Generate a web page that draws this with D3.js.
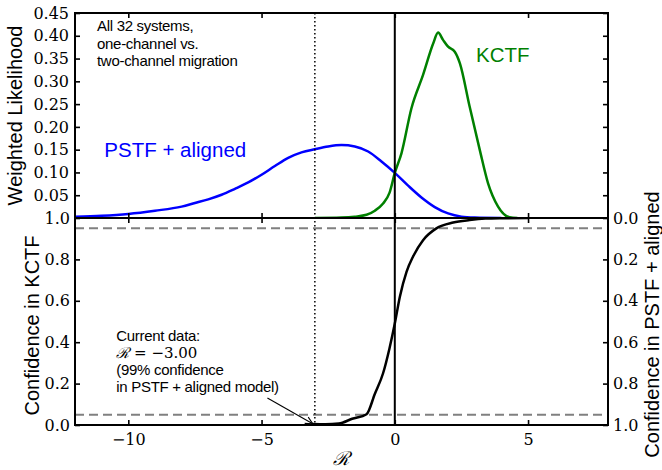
<!DOCTYPE html>
<html>
<head>
<meta charset="utf-8">
<script src="https://cdn.jsdelivr.net/npm/d3@7"></script>
<style>
  html, body { margin: 0; padding: 0; background: #fff; }
  svg { display: block; }
  .tick text { font-family: "DejaVu Serif", serif; font-size: 16px; fill: #000; }
  .tick line { stroke: #000; stroke-width: 1.6px; }
  .sans { font-family: "Liberation Sans", Arial, sans-serif; }
</style>
</head>
<body>
<svg id="chart" width="662" height="470"></svg>
<script>
// PSTF + aligned: weighted likelihood versus R
const pstfR    = [-12, -11, -10, -9, -8, -7.5, -7, -6.5, -6, -5.5, -5, -4.5, -4, -3.5, -3, -2.5, -2, -1.5, -1, -0.5, 0, 0.5, 1, 1.5, 2, 2.5, 3, 4];
const pstfLike = [0.003, 0.005, 0.009, 0.016, 0.025, 0.033, 0.041, 0.051, 0.064, 0.078, 0.095, 0.114, 0.132, 0.144, 0.151, 0.157, 0.160, 0.157, 0.146, 0.124, 0.099, 0.071, 0.045, 0.024, 0.010, 0.003, 0.001, 0];

// KCTF: weighted likelihood versus R
const kctfR    = [-3, -2, -1.5, -1.06, -0.75, -0.44, -0.2, 0, 0.25, 0.625, 1.06, 1.44, 1.625, 1.81, 2.0, 2.25, 2.44, 2.81, 3.19, 3.5, 3.875, 4.31, 4.6];
const kctfLike = [0, 0.001, 0.003, 0.007, 0.016, 0.032, 0.055, 0.099, 0.142, 0.241, 0.314, 0.383, 0.407, 0.391, 0.376, 0.365, 0.340, 0.244, 0.149, 0.076, 0.025, 0.0015, 0];

// Confidence in KCTF versus R
const confR    = [-3.1, -2.6, -2.1, -1.6, -1.06, -0.75, -0.44, -0.2, 0, 0.19, 0.44, 0.69, 1.06, 1.56, 2.19, 2.81, 3.4, 4.0, 5.0];
const confKCTF = [0.005, 0.004, 0.007, 0.03, 0.052, 0.15, 0.25, 0.37, 0.49, 0.62, 0.74, 0.815, 0.893, 0.95, 0.978, 0.99, 0.997, 0.999, 1.0];

// Tick values
const xTicks    = [-10, -5, 0, 5];
const likeTicks = [0.05, 0.10, 0.15, 0.20, 0.25, 0.30, 0.35, 0.40, 0.45];
const confTicks = [0.0, 0.2, 0.4, 0.6, 0.8, 1.0];

// Reference lines
const currentR  = -3.0;
const bandLines = [0.95, 0.05];

const svg = d3.select("#chart");
const L = 75, R = 608, T = 13, M = 218, B = 425;

const x  = d3.scaleLinear().domain([-12, 8]).range([L, R]);
const yL = d3.scaleLinear().domain([0, 0.45]).range([M, T]);
const yC = d3.scaleLinear().domain([0, 1]).range([B, M]);
const yP = d3.scaleLinear().domain([0, 1]).range([M, B]);

// clip paths for each panel
const defs = svg.append("defs");
defs.append("clipPath").attr("id", "clipTop")
  .append("rect").attr("x", L).attr("y", T).attr("width", R - L).attr("height", M - T);
defs.append("clipPath").attr("id", "clipBot")
  .append("rect").attr("x", L).attr("y", M).attr("width", R - L).attr("height", B - M);
defs.append("marker").attr("id", "arrowHead")
  .attr("viewBox", "0 0 10 10").attr("refX", 9).attr("refY", 5)
  .attr("markerWidth", 9).attr("markerHeight", 9).attr("markerUnits", "userSpaceOnUse")
  .attr("orient", "auto")
  .append("path").attr("d", "M1,1 L9,5 L1,9").attr("fill", "none")
  .attr("stroke", "#000").attr("stroke-width", 1.2);

// ---------- upper panel ----------
const upperPlot = svg.append("g").attr("clip-path", "url(#clipTop)");

const lineL = d3.line().x(d => x(d[0])).y(d => yL(d[1])).curve(d3.curveMonotoneX);

upperPlot.append("path").datum(d3.zip(pstfR, pstfLike))
  .attr("d", lineL).attr("fill", "none").attr("stroke", "#0000ff").attr("stroke-width", 2.5);
upperPlot.append("path").datum(d3.zip(kctfR, kctfLike))
  .attr("d", lineL).attr("fill", "none").attr("stroke", "#008000").attr("stroke-width", 2.5);

// ---------- lower panel ----------
const lowerPlot = svg.append("g").attr("clip-path", "url(#clipBot)");

lowerPlot.selectAll("line.band").data(bandLines).join("line")
  .attr("class", "band")
  .attr("x1", L).attr("x2", R)
  .attr("y1", d => yC(d)).attr("y2", d => yC(d))
  .attr("stroke", "#808080").attr("stroke-width", 2).attr("stroke-dasharray", "9,5");

const lineC = d3.line().x(d => x(d[0])).y(d => yC(d[1])).curve(d3.curveMonotoneX);
lowerPlot.append("path").datum(d3.zip(confR, confKCTF))
  .attr("d", lineC).attr("fill", "none").attr("stroke", "#000").attr("stroke-width", 2.5);

// vertical markers spanning both panels
svg.append("line")
  .attr("x1", x(0)).attr("x2", x(0)).attr("y1", T).attr("y2", B)
  .attr("stroke", "#000").attr("stroke-width", 2);
svg.append("line")
  .attr("x1", x(currentR)).attr("x2", x(currentR)).attr("y1", T).attr("y2", B)
  .attr("stroke", "#000").attr("stroke-width", 1.5).attr("stroke-dasharray", "1.5,2.5");

// ---------- axes ----------
function cleanAxis(g) {
  g.select(".domain").remove();
}
const fmt2 = d3.format(".2f"), fmt1 = d3.format(".1f");

svg.append("g").attr("transform", `translate(${L},0)`)
  .call(d3.axisLeft(yL).tickValues(likeTicks).tickSizeInner(-5).tickSizeOuter(0).tickPadding(6).tickFormat(fmt2))
  .call(cleanAxis);
svg.append("g").attr("transform", `translate(${R},0)`)
  .call(d3.axisRight(yL).tickValues(likeTicks).tickSizeInner(-5).tickSizeOuter(0).tickFormat(""))
  .call(cleanAxis);
svg.append("g").attr("transform", `translate(0,${T})`)
  .call(d3.axisTop(x).tickValues(xTicks).tickSizeInner(-5).tickSizeOuter(0).tickFormat(""))
  .call(cleanAxis);
svg.append("g").attr("transform", `translate(0,${M})`)
  .call(d3.axisBottom(x).tickValues(xTicks).tickSizeInner(-5).tickSizeOuter(0).tickFormat(""))
  .call(cleanAxis);
svg.append("g").attr("transform", `translate(0,${M})`)
  .call(d3.axisTop(x).tickValues(xTicks).tickSizeInner(-5).tickSizeOuter(0).tickFormat(""))
  .call(cleanAxis);
svg.append("g").attr("transform", `translate(0,${B})`)
  .call(d3.axisBottom(x).tickValues(xTicks).tickSizeInner(-5).tickSizeOuter(0).tickPadding(9).tickFormat(d3.format("d")))
  .call(cleanAxis);
svg.append("g").attr("transform", `translate(${L},0)`)
  .call(d3.axisLeft(yC).tickValues(confTicks).tickSizeInner(-5).tickSizeOuter(0).tickPadding(5).tickFormat(fmt1))
  .call(cleanAxis);
svg.append("g").attr("transform", `translate(${R},0)`)
  .call(d3.axisRight(yP).tickValues(confTicks).tickSizeInner(-5).tickSizeOuter(0).tickPadding(5).tickFormat(fmt1))
  .call(cleanAxis);

// frames
svg.append("rect").attr("x", L).attr("y", T).attr("width", R - L).attr("height", M - T)
  .attr("fill", "none").attr("stroke", "#000").attr("stroke-width", 2);
svg.append("rect").attr("x", L).attr("y", M).attr("width", R - L).attr("height", B - M)
  .attr("fill", "none").attr("stroke", "#000").attr("stroke-width", 2);

// ---------- labels ----------
svg.append("text").attr("class", "sans")
  .attr("transform", `translate(22,${(T + M) / 2}) rotate(-90)`)
  .attr("text-anchor", "middle").attr("font-size", 20).text("Weighted Likelihood");
svg.append("text").attr("class", "sans")
  .attr("transform", `translate(39,${(M + B) / 2 + 4}) rotate(-90)`)
  .attr("text-anchor", "middle").attr("font-size", 20).text("Confidence in KCTF");
svg.append("text").attr("class", "sans")
  .attr("transform", `translate(659,${(M + B) / 2 + 3}) rotate(-90)`)
  .attr("text-anchor", "middle").attr("font-size", 20).text("Confidence in PSTF + aligned");
svg.append("text")
  .attr("x", (L + R) / 2).attr("y", 465)
  .attr("text-anchor", "middle").attr("font-family", "DejaVu Serif, serif")
  .attr("font-style", "italic").attr("font-size", 19).text("ℛ");

// curve names
svg.append("text").attr("class", "sans")
  .attr("x", x(-10.9)).attr("y", yL(0.135)).attr("font-size", 20.5).attr("fill", "#0000ff")
  .text("PSTF + aligned");
svg.append("text").attr("class", "sans")
  .attr("x", x(3.05)).attr("y", yL(0.343)).attr("font-size", 20.5).attr("fill", "#008000")
  .text("KCTF");

// description
const desc = svg.append("text").attr("class", "sans").attr("font-size", 15).attr("letter-spacing", -0.3);
["All 32 systems,", "one-channel vs.", "two-channel migration"].forEach((s, i) => {
  desc.append("tspan").attr("x", 97).attr("y", 31 + i * 17.5).text(s);
});

// current-data annotation
const ann = svg.append("text").attr("class", "sans").attr("font-size", 15).attr("letter-spacing", -0.3);
const ax0 = x(-10.45);
ann.append("tspan").attr("x", ax0).attr("y", 341).text("Current data:");
ann.append("tspan").attr("x", ax0).attr("y", 375).text("(99% confidence");
ann.append("tspan").attr("x", ax0).attr("y", 392).text("in PSTF + aligned model)");
const rl = svg.append("text").attr("x", ax0).attr("y", 358).attr("font-size", 15)
  .attr("font-family", "DejaVu Serif, serif");
rl.append("tspan").attr("font-style", "italic").text("ℛ");
rl.append("tspan").text(" = −3.00");

svg.append("line")
  .attr("x1", x(-4.78)).attr("y1", yC(0.13))
  .attr("x2", x(-3.08)).attr("y2", yC(0.006))
  .attr("stroke", "#000").attr("stroke-width", 1.1)
  .attr("marker-end", "url(#arrowHead)");
</script>
</body>
</html>
